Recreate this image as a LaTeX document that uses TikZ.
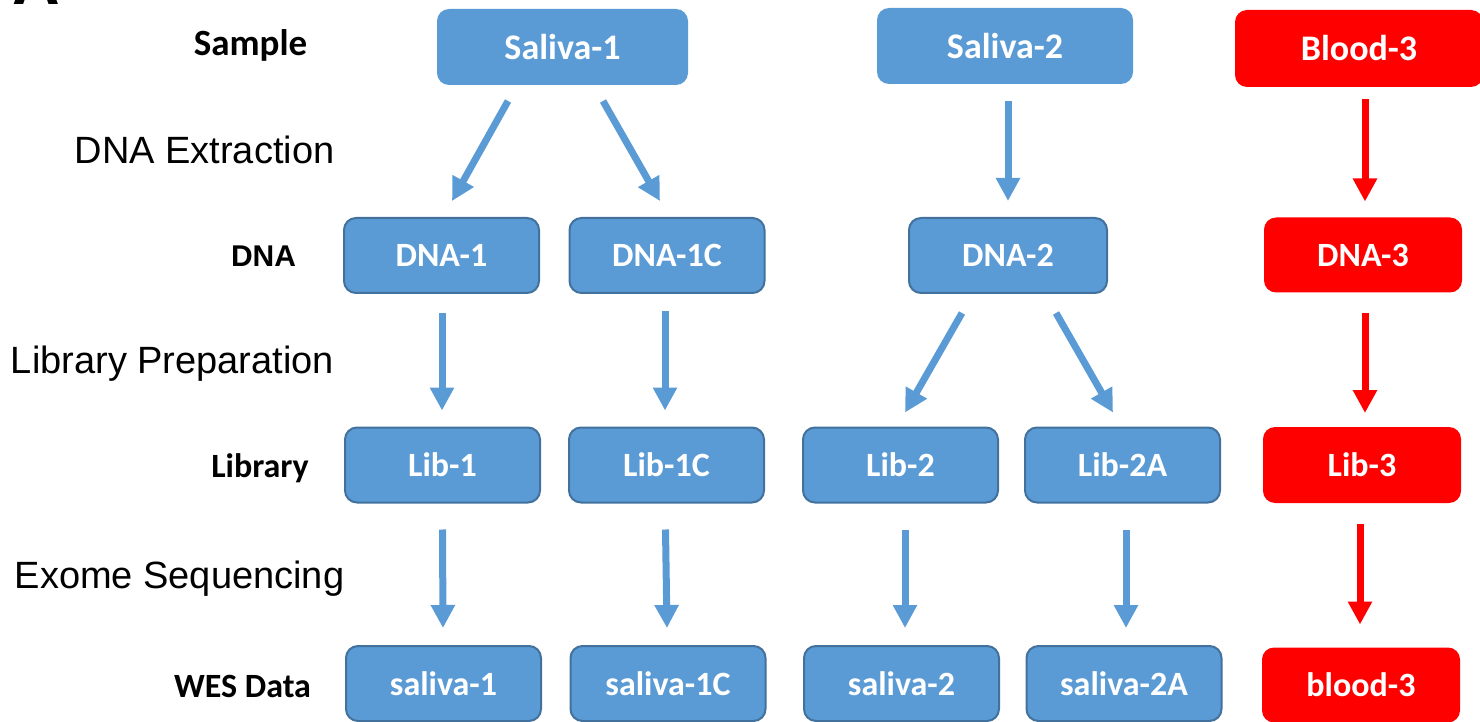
\documentclass[tikz,border=0pt]{standalone}
\usepackage{fontspec}
\setmainfont{Carlito}
\newfontfamily\arialfont{Liberation Sans}
\usetikzlibrary{positioning,calc,arrows.meta}
\definecolor{boxblue}{HTML}{5B9BD5}
\definecolor{edgeblue}{HTML}{41719C}

\begin{document}
\begin{tikzpicture}
		[
			x=0.5pt, y=-0.5pt,
			every node/.style={inner sep=0pt, align=center},
			box/.style={draw=edgeblue, line width=1pt, fill=boxblue, rounded corners=6pt, minimum width=97.5pt, minimum height=37.5pt, text=white, font=\bfseries\fontsize{17}{20}\selectfont},
			topbox/.style={box, draw=none, minimum width=126pt, minimum height=38pt, font=\bfseries\fontsize{18}{21}\selectfont},
			redbox/.style={box, draw=none, fill=red, minimum width=99pt},
			rowlabel/.style={anchor=base, font=\bfseries\fontsize{17}{20}\selectfont},
			steplabel/.style={anchor=base, font=\arialfont\fontsize{19}{22}\selectfont},
			arr/.style={draw=boxblue, line width=3.5pt, -{Triangle[width=11.5pt,length=11.5pt]}},
			redarr/.style={arr, draw=red}
		]

		\useasboundingbox (0,0) rectangle (1480,722);
		\clip (0,0) rectangle (1480,722);

		% row labels
		\node[anchor=base, font=\arialfont\bfseries\fontsize{33}{36}\selectfont] (panel) at (36,5) {A};
		\node[rowlabel, font=\bfseries\fontsize{18.5}{21}\selectfont] (lsample) at (250.5,56) {Sample};
		\node[steplabel] (lextract) at (204.5,164) {DNA Extraction};
		\node[rowlabel, font=\arialfont\bfseries\fontsize{15}{18}\selectfont] (ldna) at (263.5,267) {DNA};
		\node[steplabel] (lprep) at (172.5,373) {Library Preparation};
		\node[rowlabel] (llib) at (260,477) {Library};
		\node[steplabel] (lseq) at (179.5,588) {Exome Sequencing};
		\node[rowlabel] (lwes) at (242.5,697) {WES Data};

		% samples
		\node[topbox, minimum width=125.5pt] (sal1) at (562.5,47) {Saliva-1};
		\node[topbox, minimum width=128pt] (sal2) at (1005,46) {Saliva-2};
		\node[topbox, fill=red, minimum width=124pt, minimum height=38.5pt] (blood) at (1359,48.5) {Blood-3};

		% DNA
		\node[box] (dna1) at (441.5,255.5) {DNA-1};
		\node[box] (dna1c) at (667,255.5) {DNA-1C};
		\node[box, minimum width=99pt] (dna2) at (1008,255.5) {DNA-2};
		\node[redbox] (dna3) at (1363,255) {DNA-3};

		% libraries
		\node[box] (lib1) at (442.5,465) {Lib-1};
		\node[box] (lib1c) at (666.5,465) {Lib-1C};
		\node[box] (lib2) at (900.5,465) {Lib-2};
		\node[box] (lib2a) at (1122.5,465) {Lib-2A};
		\node[redbox, minimum height=38pt] (lib3) at (1362,465) {Lib-3};

		% WES data
		\node[box] (wes1) at (443.5,683.5) {saliva-1};
		\node[box] (wes1c) at (668,683.5) {saliva-1C};
		\node[box] (wes2) at (901.5,683.5) {saliva-2};
		\node[box] (wes2a) at (1124,683.5) {saliva-2A};
		\node[redbox] (wes3) at (1361,685) {blood-3};

		\draw[arr] ($(sal1.south)+(-54.5,15)$) -- ($(dna1.north)+(10.5,-16)$);
		\draw[arr] ($(sal1.south)+(40.5,15)$) -- ($(dna1c.north)+(-7,-16)$);
		\draw[arr] ($(sal2.south)+(3,16)$) -- ($(dna2.north)+(0,-16)$);
		\draw[redarr] ($(blood.south)+(6,11)$) -- ($(dna3.north)+(2,-15)$);

		\draw[arr] ($(dna1.south)+(0.5,19)$) -- ($(lib1.north)+(-0.5,-16)$);
		\draw[arr] ($(dna1c.south)+(-2,17)$) -- ($(lib1c.north)+(-1.5,-16)$);
		\draw[arr] ($(dna2.south)+(-46,19)$) -- ($(lib2.north)+(4.5,-14)$);
		\draw[arr] ($(dna2.south)+(48,19)$) -- ($(lib2a.north)+(-9.5,-14)$);
		\draw[redarr] ($(dna3.south)+(2,19)$) -- ($(lib3.north)+(3,-13)$);

		\draw[arr] ($(lib1.south)+(0,26)$) -- ($(wes1.north)+(-0.5,-17)$);
		\draw[arr] ($(lib1c.south)+(-1,26)$) -- ($(wes1c.north)+(-1,-17)$);
		\draw[arr] ($(lib2.south)+(4.5,26)$) -- ($(wes2.north)+(3.5,-17)$);
		\draw[arr] ($(lib2a.south)+(3.5,26)$) -- ($(wes2a.north)+(2,-17)$);
		\draw[redarr] ($(lib3.south)+(-2,20)$) -- ($(wes3.north)+(-1,-22)$);
	\end{tikzpicture}
\end{document}
